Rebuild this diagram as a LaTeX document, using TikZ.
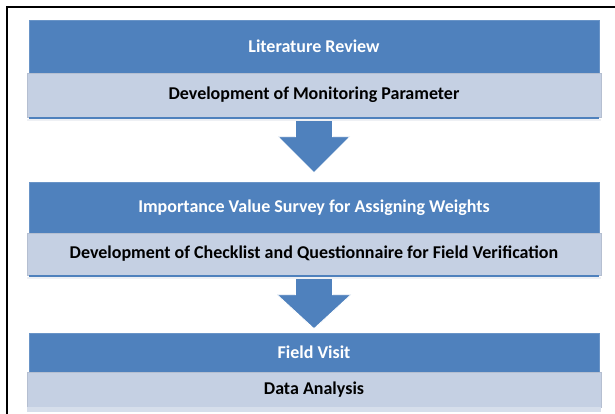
\documentclass[tikz,border=0pt]{standalone}
\usepackage{fontspec}
\setmainfont{Carlito}
\usetikzlibrary{calc}
\definecolor{accblue}{HTML}{4F81BD}
\definecolor{lightbox}{HTML}{C5D0E3}
\definecolor{shadowc}{HTML}{EEF0F4}
\tikzset{
  bluebox/.style={rectangle, fill=accblue, draw=accblue!85!white, line width=0.6pt, inner sep=0pt,
    minimum width=570pt, text=white, font=\fontsize{18}{20}\selectfont\bfseries},
  lightbx/.style={rectangle, fill=lightbox, draw=lightbox!92!black, line width=0.4pt, inner sep=0pt,
    minimum width=574pt, text=black, font=\fontsize{18}{20}\selectfont\bfseries},
  blockarrow/.style={fill=accblue, draw=white, line width=0.8pt, line join=miter},
  frameline/.style={draw=black, line width=1.6pt}
}
\begin{document}
\begin{tikzpicture}[x=1pt,y=-1pt]
\useasboundingbox (0,0) rectangle (615,414);
\fill[white] (0,0) rectangle (615,414);
% outer frame (partly cut off at right and bottom)
\draw[frameline] (7,416) -- (7,7) -- (617,7);

% --- stage 1 ---
\node[bluebox, minimum height=53pt] (b1) at (314,46.5) {Literature Review};
\node[lightbx, minimum height=44pt] (l1) at (314,95) {Development of Monitoring Parameter};
% --- stage 2 ---
\node[bluebox, minimum height=51pt] (b2) at (314,207.5) {Importance Value Survey for Assigning Weights};
\node[lightbx, minimum height=42pt] (l2) at (314,254) {Development of Checklist and Questionnaire for Field Verification};
% --- stage 3 ---
\node[bluebox, minimum height=39pt] (b3) at (314,352.5) {Field Visit};
\node[lightbx, minimum height=35pt] (l3) at (314,389.5) {Data Analysis};

% arrow tips
\coordinate (t1) at ($(b2.north)+(0,-9)$);
\coordinate (t2) at ($(b3.north)+(0,-4)$);

% block arrows
\path[blockarrow] ($(l1.south)+(-18.5,2)$) -- ($(t1)+(-18.5,-36)$) -- ($(t1)+(-36,-36)$) -- (t1)
  -- ($(t1)+(36,-36)$) -- ($(t1)+(18.5,-36)$) -- ($(l1.south)+(18.5,2)$) -- cycle;
\path[blockarrow] ($(l2.south)+(-18.5,2)$) -- ($(t2)+(-18.5,-34)$) -- ($(t2)+(-37,-34)$) -- (t2)
  -- ($(t2)+(37,-34)$) -- ($(t2)+(18.5,-34)$) -- ($(l2.south)+(18.5,2)$) -- cycle;

% thin blue strips and faint shadows under the light boxes
\foreach \n in {l1,l2}{
  \fill[accblue] ($(\n.south west)+(2,0)$) rectangle ($(\n.south east)+(-2,2)$);
  \fill[shadowc] ($(\n.south west)+(0,2)$) rectangle ($(\n.south east)+(0,4)$);
}
\fill[lightbox!70!white] ($(l3.south west)$) rectangle ($(l3.south east)+(0,5)$);
\end{tikzpicture}
\end{document}
